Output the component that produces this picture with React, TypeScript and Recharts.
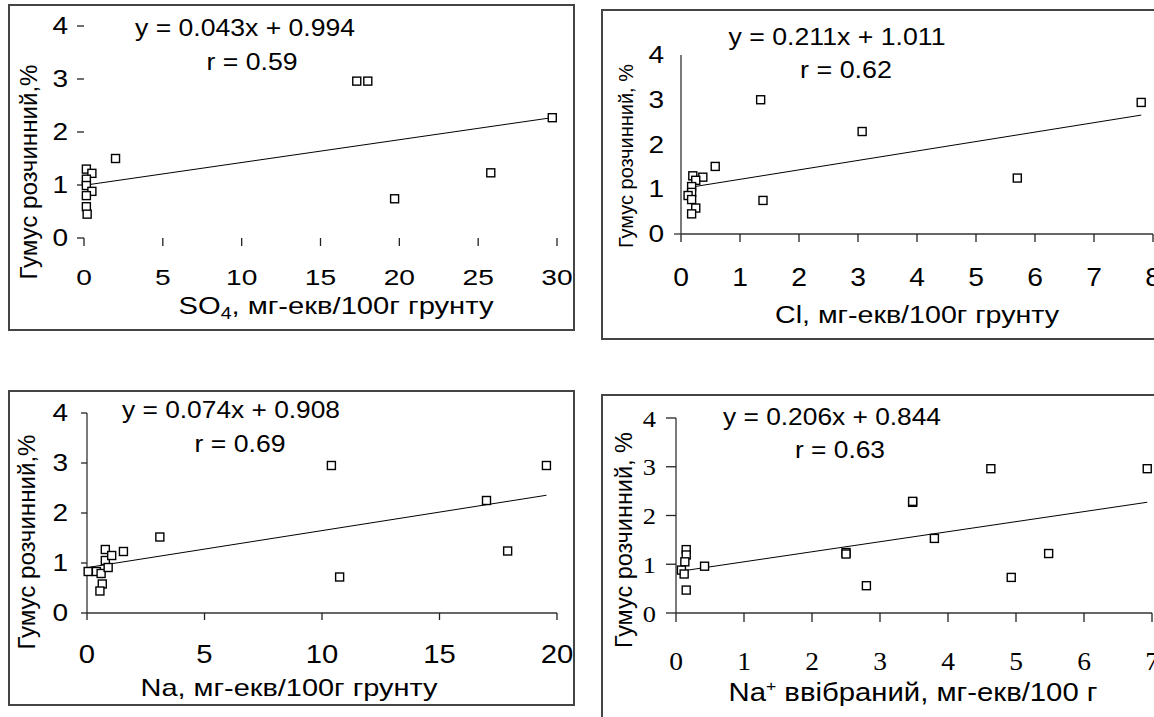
import React from 'react';
import { ScatterChart, Scatter, XAxis, YAxis } from 'recharts';

// ---------- data ----------
const yTicks = [0, 1, 2, 3, 4];

const so4X = [0.15, 0.5, 0.15, 0.15, 0.5, 0.15, 0.15, 0.2, 2.0, 17.3, 18.0, 29.7, 25.8, 19.7];
const so4Y = [1.30, 1.22, 1.11, 0.99, 0.88, 0.80, 0.59, 0.45, 1.50, 2.96, 2.96, 2.27, 1.23, 0.74];
const so4Ticks = [0, 5, 10, 15, 20, 25, 30];
const so4Fit = { slope: 0.043, intercept: 0.994, from: 0, to: 29.7 };

const clX = [0.2, 0.37, 0.25, 0.18, 0.18, 0.12, 0.18, 0.25, 0.18, 0.58, 1.35, 1.39, 3.07, 5.7, 7.8];
const clY = [1.30, 1.27, 1.20, 1.06, 0.93, 0.86, 0.77, 0.58, 0.45, 1.51, 3.0, 0.75, 2.29, 1.25, 2.94];
const clTicks = [0, 1, 2, 3, 4, 5, 6, 7, 8];
const clFit = { slope: 0.211, intercept: 1.011, from: 0.15, to: 7.8 };

const naX = [0.05, 0.4, 0.6, 0.65, 0.55, 0.78, 0.78, 1.05, 0.9, 1.55, 3.1, 10.4, 10.75, 17.0, 17.9, 19.55];
const naY = [0.83, 0.83, 0.79, 0.58, 0.44, 1.27, 1.05, 1.15, 0.91, 1.23, 1.52, 2.95, 0.72, 2.25, 1.24, 2.95];
const naTicks = [0, 5, 10, 15, 20];
const naFit = { slope: 0.074, intercept: 0.908, from: 0.05, to: 19.55 };

const nabX = [0.15, 0.15, 0.13, 0.08, 0.12, 0.15, 0.42, 2.5, 2.5, 2.8, 3.48, 3.48, 3.8, 4.63, 4.93, 5.48, 6.93];
const nabY = [1.30, 1.19, 1.05, 0.88, 0.80, 0.47, 0.96, 1.24, 1.21, 0.56, 2.27, 2.29, 1.53, 2.96, 0.73, 1.22, 2.96];
const nabTicks = [0, 1, 2, 3, 4, 5, 6, 7];
const nabFit = { slope: 0.206, intercept: 0.844, from: 0.08, to: 6.93 };

// ---------- helpers ----------
const SANS = '"Liberation Sans", Arial, sans-serif';
const SERIF = '"Liberation Serif", "Times New Roman", serif';

type Fit = { slope: number; intercept: number; from: number; to: number };
const toPts = (xs: number[], ys: number[]) => xs.map((x, i) => ({ x, y: ys[i] }));
const trend = (f: Fit) => [f.from, f.to].map((x) => ({ x, y: f.slope * x + f.intercept }));

const Square = (p: any) => (
  <rect x={p.cx - 4} y={p.cy - 4} width={8} height={8} fill="#fff" stroke="#000" strokeWidth={1.4} />
);
const NoShape = () => <g />;

type TS = { fs: number; sx: number; family: string };

const makeXTick = (st: TS) => (p: any) => (
  <g transform={`translate(${p.x},${p.y})`}>
    <text transform={`scale(${st.sx},1)`} textAnchor="middle" y={st.fs * 0.716} fontSize={st.fs} fontFamily={st.family} fill="#000">
      {p.payload.value}
    </text>
  </g>
);

const makeYTick = (st: TS, zeroLine: number) => (p: any) => (
  <g transform={`translate(${p.x},${p.y})`}>
    {zeroLine > 0 && p.payload.value === 0 ? (
      <line x1={zeroLine} x2={zeroLine + 7} y1={0} y2={0} stroke="#333" strokeWidth={1.3} />
    ) : null}
    <text transform={`scale(${st.sx},1)`} textAnchor="end" y={st.fs * 0.358} fontSize={st.fs} fontFamily={st.family} fill="#000">
      {p.payload.value}
    </text>
  </g>
);

const AXW = 60;
const AXH = 60;

type PanelProps = {
  frame: [number, number, number, number];
  plot: [number, number, number, number];
  pts: { x: number; y: number }[];
  fit: Fit;
  xTicks: number[];
  xt: TS;
  yt: TS;
  axisLine: boolean;
  xTickSize: number;
  xTickMargin: number;
  yTickSize: number;
  yTickMargin: number;
  yTickLine: boolean;
  yZero: number;
};

function Panel(props: PanelProps) {
  const [fx, fy, fw, fh] = props.frame;
  const [pl, pt, pr, pb] = props.plot;
  const margin = {
    top: pt - fy,
    left: pl - fx - AXW,
    right: fx + fw - pr,
    bottom: fy + fh - pb - AXH,
  };
  const axisStyle = props.axisLine ? { stroke: '#333', strokeWidth: 1.3 } : false;
  return (
    <>
      <div
        style={{
          position: 'absolute',
          left: fx,
          top: fy,
          width: fw,
          height: fh,
          boxSizing: 'border-box',
          border: '2px solid #444',
        }}
      />
      <div style={{ position: 'absolute', left: fx, top: fy }}>
        <ScatterChart width={fw} height={fh} margin={margin}>
          <XAxis
            type="number"
            dataKey="x"
            domain={[props.xTicks[0], props.xTicks[props.xTicks.length - 1]]}
            ticks={props.xTicks}
            interval={0}
            height={AXH}
            axisLine={axisStyle as any}
            tickLine={{ stroke: '#222', strokeWidth: 1.3 }}
            tickSize={props.xTickSize}
            tickMargin={props.xTickMargin}
            tick={makeXTick(props.xt)}
          />
          <YAxis
            type="number"
            dataKey="y"
            domain={[0, 4]}
            ticks={yTicks}
            interval={0}
            width={AXW}
            axisLine={axisStyle as any}
            tickLine={props.yTickLine ? { stroke: '#222', strokeWidth: 1.3 } : false}
            tickSize={props.yTickSize}
            tickMargin={props.yTickMargin}
            tick={makeYTick(props.yt, props.yZero)}
          />
          <Scatter
            data={trend(props.fit)}
            line={{ stroke: '#000', strokeWidth: 1 }}
            shape={NoShape}
            isAnimationActive={false}
          />
          <Scatter data={props.pts} shape={Square} isAnimationActive={false} />
        </ScatterChart>
      </div>
    </>
  );
}

type LabelProps = { x: number; y: number; fs: number; len: number; children: React.ReactNode; rotate?: boolean };
const Lbl = ({ x, y, fs, len, children, rotate }: LabelProps) => (
  <text
    transform={rotate ? `translate(${x},${y}) rotate(-90)` : `translate(${x},${y})`}
    textAnchor="middle"
    fontSize={fs}
    fontFamily={SANS}
    fill="#000"
    textLength={len}
    lengthAdjust="spacingAndGlyphs"
  >
    {children}
  </text>
);

export default function App() {
  return (
    <div
      style={{
        position: 'fixed',
        left: 0,
        top: 0,
        width: 1154,
        height: 717,
        overflow: 'hidden',
        background: '#fff',
      }}
    >
      <Panel
        frame={[8, 4, 567, 327]}
        plot={[84, 26, 557, 238]}
        pts={toPts(so4X, so4Y)}
        fit={so4Fit}
        xTicks={so4Ticks}
        xt={{ fs: 22, sx: 1.28, family: SANS }}
        yt={{ fs: 23, sx: 1.22, family: SANS }}
        axisLine={false}
        xTickSize={8}
        xTickMargin={23}
        yTickSize={7}
        yTickMargin={9}
        yTickLine={true}
        yZero={0}
      />
      <Panel
        frame={[601, 9, 620, 331]}
        plot={[681, 55, 1153, 234]}
        pts={toPts(clX, clY)}
        fit={clFit}
        xTicks={clTicks}
        xt={{ fs: 25, sx: 1.13, family: SANS }}
        yt={{ fs: 23, sx: 1.22, family: SANS }}
        axisLine={true}
        xTickSize={8}
        xTickMargin={26}
        yTickSize={7}
        yTickMargin={10}
        yTickLine={false}
        yZero={10}
      />
      <Panel
        frame={[8, 390, 567, 316]}
        plot={[87, 413, 557, 613]}
        pts={toPts(naX, naY)}
        fit={naFit}
        xTicks={naTicks}
        xt={{ fs: 25, sx: 1.17, family: SANS }}
        yt={{ fs: 23, sx: 1.22, family: SANS }}
        axisLine={true}
        xTickSize={7}
        xTickMargin={25}
        yTickSize={6}
        yTickMargin={13}
        yTickLine={true}
        yZero={0}
      />
      <Panel
        frame={[601, 394, 620, 350]}
        plot={[676, 418, 1152, 613]}
        pts={toPts(nabX, nabY)}
        fit={nabFit}
        xTicks={nabTicks}
        xt={{ fs: 25, sx: 1.1, family: SERIF }}
        yt={{ fs: 24, sx: 1.1, family: SERIF }}
        axisLine={true}
        xTickSize={9}
        xTickMargin={30}
        yTickSize={10}
        yTickMargin={10}
        yTickLine={true}
        yZero={0}
      />
      <svg
        width={1154}
        height={717}
        style={{ position: 'absolute', left: 0, top: 0, pointerEvents: 'none' }}
      >
        {/* panel 1 */}
        <Lbl x={245} y={36} fs={23} len={220}>y = 0.043x + 0.994</Lbl>
        <Lbl x={252} y={70} fs={23} len={91}>r = 0.59</Lbl>
        <Lbl x={336} y={314} fs={24} len={315}>
          SO<tspan fontSize={16} dy={5}>4</tspan>
          <tspan dy={-5}>, мг-екв/100г грунту</tspan>
        </Lbl>
        <Lbl x={37} y={172} fs={23} len={215} rotate>Гумус розчинний,%</Lbl>

        {/* panel 2 */}
        <Lbl x={837} y={45} fs={23} len={217}>y = 0.211x + 1.011</Lbl>
        <Lbl x={846} y={78} fs={23} len={92}>r = 0.62</Lbl>
        <Lbl x={917} y={323} fs={23} len={284}>Cl, мг-екв/100г грунту</Lbl>
        <Lbl x={633} y={156} fs={21} len={184} rotate>Гумус розчинний, %</Lbl>

        {/* panel 3 */}
        <Lbl x={231} y={418} fs={23} len={218}>y = 0.074x + 0.908</Lbl>
        <Lbl x={240} y={452} fs={23} len={91}>r = 0.69</Lbl>
        <Lbl x={289} y={696} fs={24} len={297}>Na, мг-екв/100г грунту</Lbl>
        <Lbl x={35} y={542} fs={23} len={215} rotate>Гумус розчинний,%</Lbl>

        {/* panel 4 */}
        <Lbl x={832} y={425} fs={23} len={218}>y = 0.206x + 0.844</Lbl>
        <Lbl x={840} y={458} fs={23} len={90}>r = 0.63</Lbl>
        <Lbl x={913} y={701} fs={25} len={369}>
          Na<tspan fontSize={15} dy={-10}>+</tspan>
          <tspan dy={10}> ввібраний, мг-екв/100 г</tspan>
        </Lbl>
        <Lbl x={632} y={540} fs={23} len={216} rotate>Гумус розчинний, %</Lbl>
      </svg>
    </div>
  );
}
